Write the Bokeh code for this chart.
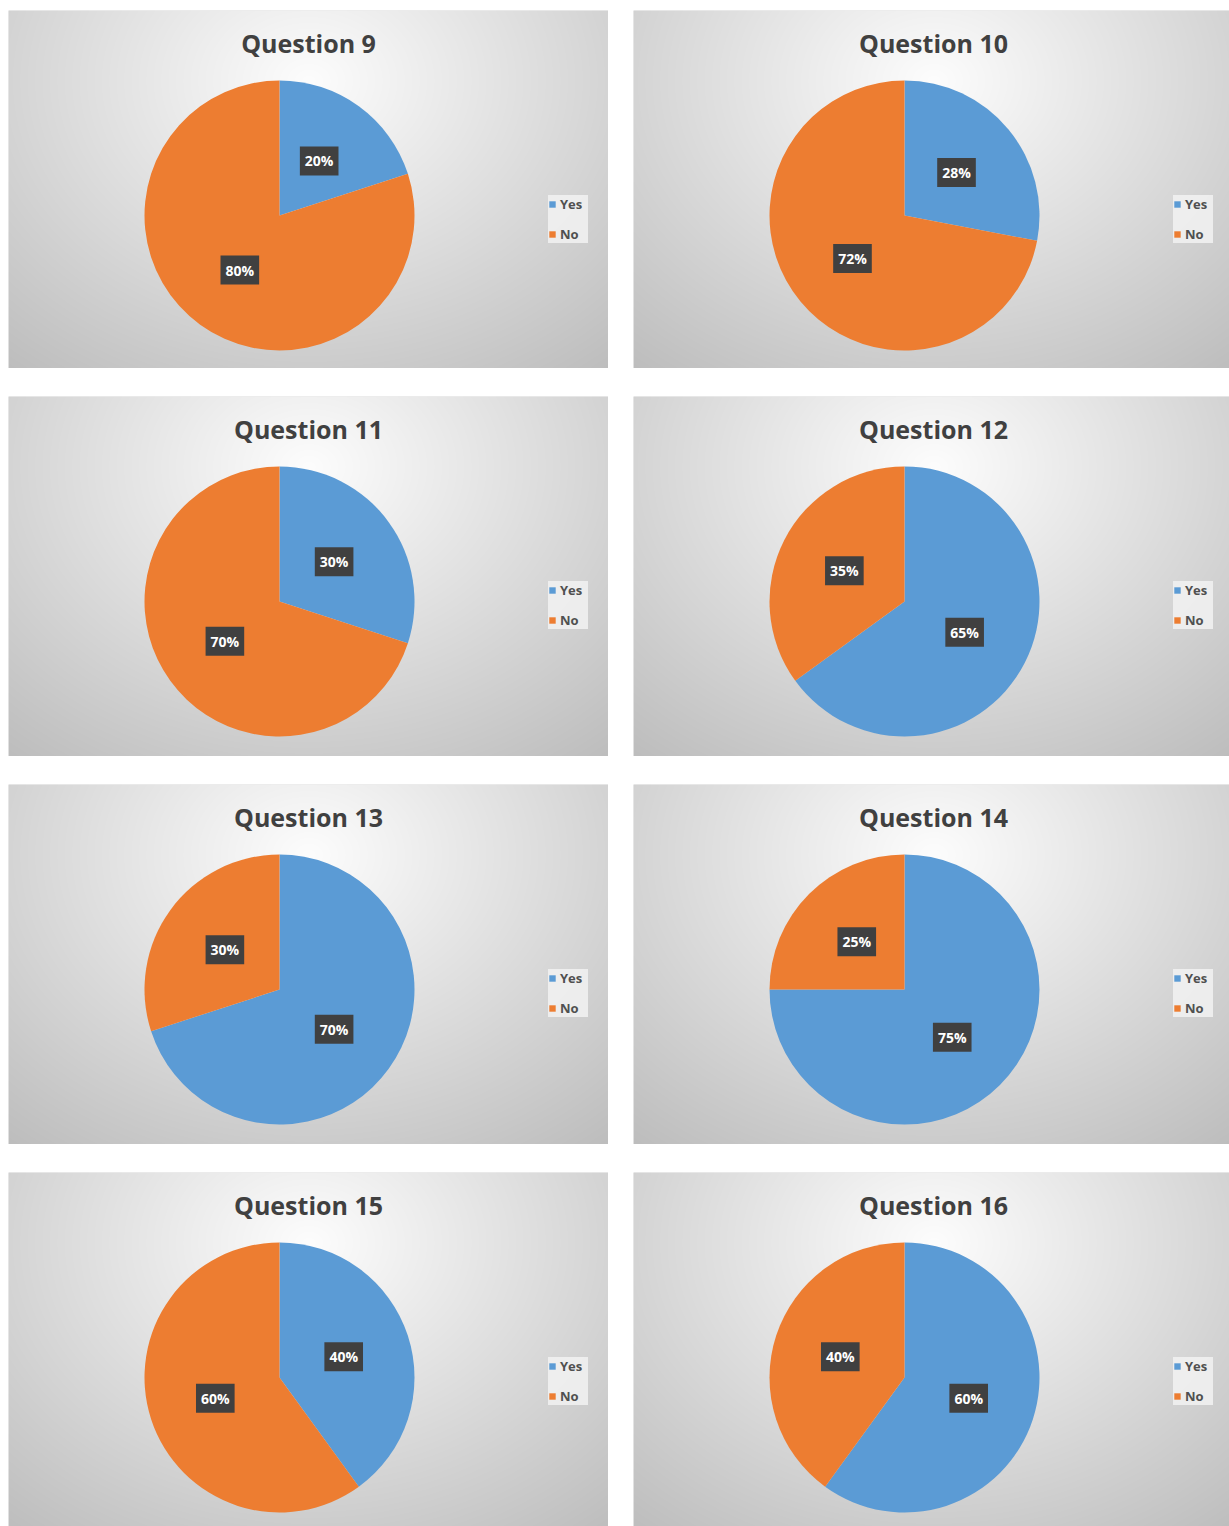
import numpy as np
from bokeh.plotting import figure
from bokeh.models import ColumnDataSource, Label, Range1d
from bokeh.layouts import column, row
from bokeh.embed import file_html
from bokeh.resources import INLINE
from bokeh.core.properties import value

questions = ["Question 9", "Question 10", "Question 11", "Question 12",
             "Question 13", "Question 14", "Question 15", "Question 16"]
yes_pct = [20, 28, 30, 65, 70, 75, 40, 60]
no_pct = [80, 72, 70, 35, 30, 25, 60, 40]
categories = ["Yes", "No"]
colors = ["#5B9BD5", "#ED7D31"]

R_PX = 135.0
CX_PX = 271.0
CY_TOP = 205.0


def gradient(width, height):
    xs = np.arange(width)
    ys = np.arange(height)[::-1]  # row 0 = bottom
    X, Y = np.meshgrid(xs, ys)
    d = np.sqrt(((X - 300) / 430.0) ** 2 + ((Y - 70) / 340.0) ** 2)
    v = 253 - 58 * np.clip(d, 0, 1.25)
    v = np.clip(v, 180, 253).astype(np.uint32)
    img = (255 << 24) | (v << 16) | (v << 8) | v
    return img.astype(np.uint32)


def make_panel(title, yes, no, width, height):
    x0 = -CX_PX / R_PX
    x1 = (width - CX_PX) / R_PX
    y0 = -(height - CY_TOP) / R_PX
    y1 = CY_TOP / R_PX
    p = figure(width=width, height=height, x_range=Range1d(x0, x1),
               y_range=Range1d(y0, y1), toolbar_location=None,
               output_backend="svg", min_border=0)
    p.axis.visible = False
    p.grid.visible = False
    p.outline_line_color = None
    p.background_fill_color = "#d9d9d9"
    p.border_fill_color = "#d9d9d9"

    p.image_rgba(image=[gradient(width, height)], x=x0, y=y0,
                 dw=x1 - x0, dh=y1 - y0)

    vals = np.array([yes, no], dtype=float)
    frac = vals / vals.sum()
    cum_end = np.cumsum(frac)
    cum_start = cum_end - frac
    start = np.pi / 2 - 2 * np.pi * cum_start
    end = np.pi / 2 - 2 * np.pi * cum_end
    mid = np.pi / 2 - 2 * np.pi * (cum_start + cum_end) / 2
    src = ColumnDataSource(dict(cat=categories, start=start, end=end,
                                color=colors,
                                lx=0.5 * np.cos(mid), ly=0.5 * np.sin(mid),
                                lbl=[f"{int(v)}%" for v in vals]))
    p.wedge(x=0, y=0, radius=1, start_angle="start", end_angle="end",
            direction="clock", fill_color="color", line_color=None,
            legend_field="cat", source=src)
    p.text(x="lx", y="ly", text="lbl", source=src, text_align="center",
           text_baseline="middle", text_color="white",
           text_font=value("Open Sans"), text_font_style="bold",
           text_font_size="14px", background_fill_color="#404040",
           padding=5)

    p.add_layout(Label(x=300, y=height - 32, x_units="screen",
                       y_units="screen", text=title, text_align="center",
                       text_baseline="middle", text_font="Open Sans",
                       text_font_style="bold", text_font_size="25px",
                       text_color="#404040"))

    lg = p.legend[0]
    lg.location = (540, height - CY_TOP - 28)
    lg.background_fill_color = "#f2f2f2"
    lg.background_fill_alpha = 0.85
    lg.border_line_color = None
    lg.label_text_font = "Open Sans"
    lg.label_text_font_style = "bold"
    lg.label_text_font_size = "13px"
    lg.label_text_color = "#505050"
    lg.label_height = 16
    lg.label_width = 28
    lg.glyph_height = 8
    lg.glyph_width = 8
    lg.label_standoff = 4
    lg.spacing = 12
    lg.padding = 10
    lg.margin = 0
    return p


heights = [358, 360, 360, 354]
rows = []
for r in range(4):
    left = make_panel(questions[2 * r], yes_pct[2 * r], no_pct[2 * r], 600, heights[r])
    right = make_panel(questions[2 * r + 1], yes_pct[2 * r + 1], no_pct[2 * r + 1], 596, heights[r])
    rows.append(row(left, right, spacing=25))

layout = column(*rows, spacing=28, margin=(10, 0, 0, 8))

open("out.html", "w").write(file_html(layout, INLINE))
